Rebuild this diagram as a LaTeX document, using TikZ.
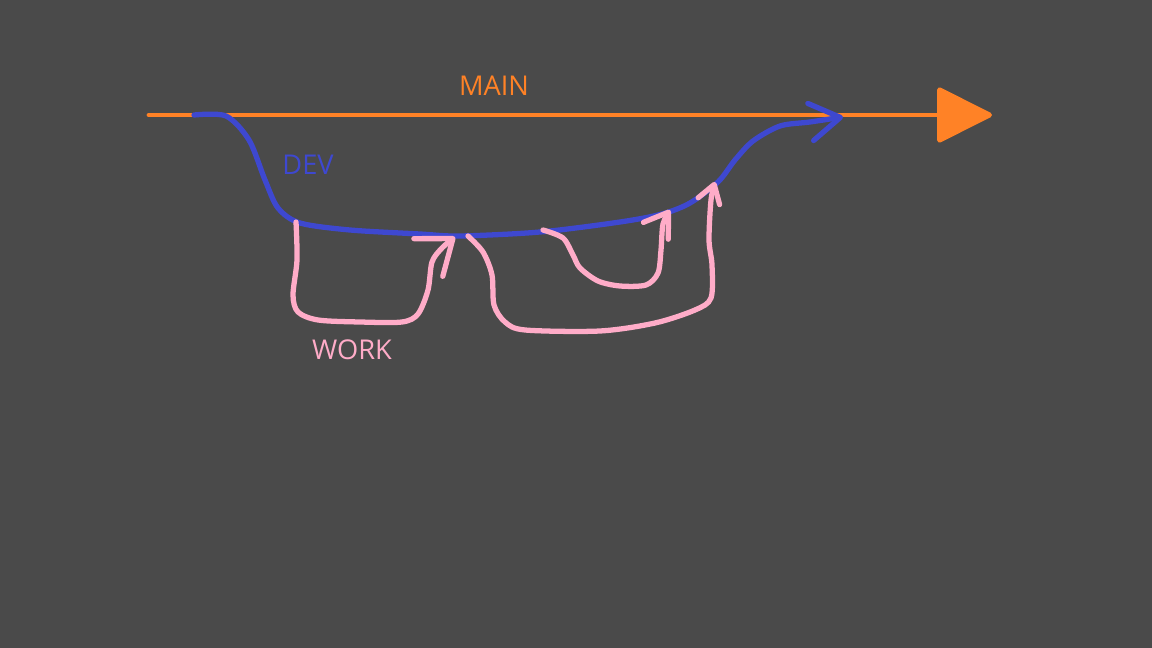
\documentclass[tikz,border=0pt]{standalone}
\usepackage{fontspec}
\setsansfont{Open Sans}
\usepackage{tikz}
\usetikzlibrary{arrows.meta}
\definecolor{bggray}{RGB}{74,74,74}
\definecolor{mainorange}{RGB}{255,130,38}
\definecolor{devblue}{RGB}{62,72,208}
\definecolor{workpink}{RGB}{255,172,200}

\begin{document}
\begin{tikzpicture}[x=0.02cm, y=-0.02cm,
  mainline/.style={draw=mainorange, line width=2.8pt, line cap=round,
    -{Triangle[length=1.16cm, width=1.14cm, round]}},
  devline/.style={draw=devblue, line width=3pt, line cap=round, line join=round,
    -{Straight Barb[length=0.6cm, width=0.75cm, round]}},
  workline/.style={draw=workpink, line width=3pt, line cap=round, line join=round},
  branchlabel/.style={font=\sffamily\fontsize{15.5}{18}\selectfont, inner sep=0pt}
]
% background
\fill[bggray] (0,0) rectangle (1152,648);
\useasboundingbox (0,0) rectangle (1152,648);

% Main
\coordinate (mainstart) at (149,115);
\coordinate (mainend)   at (992,115);
\draw[mainline] (mainstart) -- (mainend);
\node[branchlabel, text=mainorange] (mainlbl) at (494,86) {MAIN};

% Dev
\coordinate (devstart) at (194,115);
\coordinate (devmerge) at (843,117);
\draw[devline] plot[smooth, tension=0.5] coordinates {(devstart) (226,116) (249,140)
  (265,180) (278,208) (300,223) (350,230) (420,234) (460,236) (540,232)
  (620,222) (662,214) (690,203) (718,182) (735,160) (753,141) (780,126)
  (810,122) (devmerge)};
\node[branchlabel, text=devblue] (devlbl) at (308,165) {DEV};

% Work
\coordinate (workaout) at (296,222);
\coordinate (workain)  at (455,237);
\draw[workline, -{Straight Barb[length=0.62cm, width=0.95cm, round]}]
  plot[smooth, tension=0.5] coordinates {(workaout) (297,260) (293,295) (298,312)
  (318,320) (360,322) (402,322) (418,314) (428,290) (432,262) (442,248) (workain)};

\coordinate (workbout) at (468,236);
\coordinate (workbin)  at (715,182);
\draw[workline, -{Straight Barb[length=0.35cm, width=0.45cm, round]}]
  plot[smooth, tension=0.5] coordinates {(workbout) (483,252) (492,275) (494,305)
  (505,322) (525,330) (600,331) (655,323) (695,310) (711,298) (712,265)
  (709,240) (711,200) (workbin)};

\coordinate (workcout) at (543,230);
\coordinate (workcin)  at (670,210);
\draw[workline, -{Straight Barb[length=0.45cm, width=0.6cm, round]}]
  plot[smooth, tension=0.5] coordinates {(workcout) (563,238) (573,255) (580,268)
  (598,281) (620,286) (646,285) (658,273) (661,250) (663,224) (workcin)};
\node[branchlabel, text=workpink] (worklbl) at (352,350) {WORK};
\end{tikzpicture}
\end{document}
